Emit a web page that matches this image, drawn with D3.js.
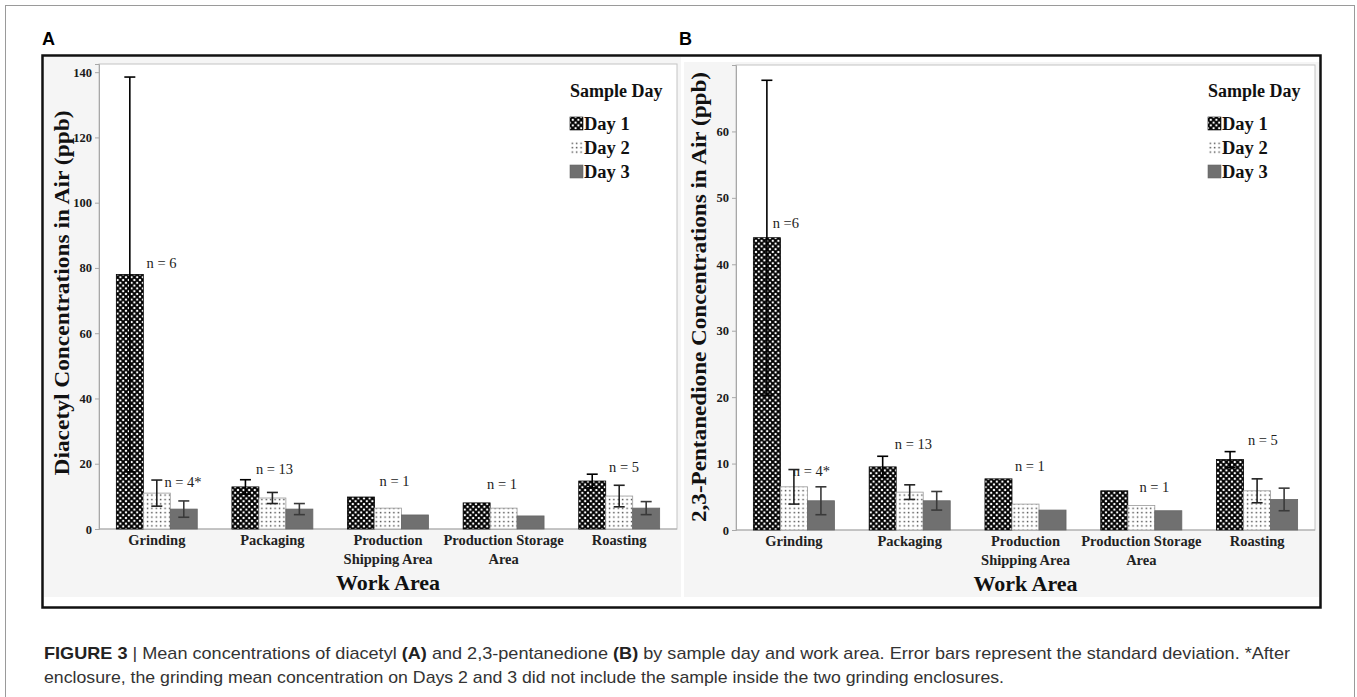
<!DOCTYPE html>
<html lang="en">
  <head>
    <meta charset="UTF-8" />
    <title>Figure 3</title>
    <script src="https://cdn.jsdelivr.net/npm/d3@7"></script>
    <style>
      body {
        margin: 0;
        background: white;
      }
      svg text {
        font-family: "Liberation Serif", "DejaVu Serif", serif;
      }
    </style>
  </head>
  <body>
    <script>
      // values
      const workAreas = [
        "Grinding",
        "Packaging",
        "Production Shipping Area",
        "Production Storage Area",
        "Roasting"
      ];
      const areaLabels = [
        ["Grinding"],
        ["Packaging"],
        ["Production", "Shipping Area"],
        ["Production Storage", "Area"],
        ["Roasting"]
      ];
      const sampleDays = ["Day 1", "Day 2", "Day 3"];

      // panel A - diacetyl (ppb)
      const diacetylDay1 = [78, 12.9, 9.8, 8.0, 14.7];
      const diacetylDay2 = [11.0, 9.5, 6.4, 6.4, 10.1];
      const diacetylDay3 = [6.1, 6.1, 4.3, 4.0, 6.4];
      const diacetylSdDay1 = [60.5, 2.2, null, null, 2.1];
      const diacetylSdDay2 = [4.0, 1.7, null, null, 3.3];
      const diacetylSdDay3 = [2.5, 1.7, null, null, 2.0];
      const diacetylTicks = [0, 20, 40, 60, 80, 100, 120, 140];
      // [work area, label, offset from group centre, value]
      const diacetylCounts = [
        ["Grinding", "n = 6", 4.7, 81.4],
        ["Grinding", "n = 4*", 26.2, 14.4],
        ["Packaging", "n = 13", 2.1, 18.4],
        ["Production Shipping Area", "n = 1", 6.5, 14.7],
        ["Production Storage Area", "n = 1", -1.6, 13.8],
        ["Roasting", "n = 5", 4.8, 18.9]
      ];

      // panel B - 2,3-pentanedione (ppb)
      const pentanedioneDay1 = [44.0, 9.5, 7.7, 5.9, 10.6];
      const pentanedioneDay2 = [6.5, 5.7, 3.9, 3.7, 5.9];
      const pentanedioneDay3 = [4.4, 4.4, 3.0, 2.9, 4.6];
      const pentanedioneSdDay1 = [23.7, 1.6, null, null, 1.2];
      const pentanedioneSdDay2 = [2.6, 1.1, null, null, 1.8];
      const pentanedioneSdDay3 = [2.1, 1.4, null, null, 1.7];
      const pentanedioneTicks = [0, 10, 20, 30, 40, 50, 60];
      const pentanedioneCounts = [
        ["Grinding", "n =6", -8, 46.2],
        ["Grinding", "n = 4*", 17.5, 8.9],
        ["Packaging", "n = 13", 3.7, 12.9],
        ["Production Shipping Area", "n = 1", 4.4, 9.6],
        ["Production Storage Area", "n = 1", 13.1, 6.5],
        ["Roasting", "n = 5", 5.8, 13.5]
      ];

      const width = 1357;
      const height = 697;

      const svg = d3
        .select("body")
        .append("svg")
        .attr("width", width)
        .attr("height", height);

      // fill patterns for the three days
      const defs = svg.append("defs");
      const p1 = defs
        .append("pattern")
        .attr("id", "day1")
        .attr("patternUnits", "userSpaceOnUse")
        .attr("width", 5.6)
        .attr("height", 5.6);
      p1.append("rect").attr("width", 5.6).attr("height", 5.6).attr("fill", "#000");
      [[0, 0], [5.6, 0], [0, 5.6], [5.6, 5.6], [2.8, 2.8]].forEach(c => {
        p1.append("circle")
          .attr("cx", c[0])
          .attr("cy", c[1])
          .attr("r", 1.2)
          .attr("fill", "#fff");
      });
      const p2 = defs
        .append("pattern")
        .attr("id", "day2")
        .attr("patternUnits", "userSpaceOnUse")
        .attr("width", 4.4)
        .attr("height", 4.4);
      p2.append("rect").attr("width", 4.4).attr("height", 4.4).attr("fill", "#fff");
      p2.append("rect")
        .attr("x", 1.6)
        .attr("y", 1.6)
        .attr("width", 1.4)
        .attr("height", 1.4)
        .attr("fill", "#444");

      const dayFill = ["url(#day1)", "url(#day2)", "#707070"];
      const dayStroke = ["#000", "#9a9a9a", "#666"];
      const errColor = ["#000", "#222", "#3a3a3a"];

      // outer frame
      svg
        .append("rect")
        .attr("x", 5.5)
        .attr("y", 5.5)
        .attr("width", 1349)
        .attr("height", 720)
        .attr("fill", "none")
        .attr("stroke", "#9a9a9a");

      // panel backgrounds + thick box
      svg
        .append("rect")
        .attr("x", 44)
        .attr("y", 57)
        .attr("width", 637)
        .attr("height", 540)
        .attr("fill", "#f5f5f5");
      svg
        .append("rect")
        .attr("x", 684)
        .attr("y", 62)
        .attr("width", 635)
        .attr("height", 535)
        .attr("fill", "#f5f5f5");
      svg
        .append("rect")
        .attr("x", 42.5)
        .attr("y", 55.5)
        .attr("width", 1278)
        .attr("height", 552)
        .attr("fill", "none")
        .attr("stroke", "#111")
        .attr("stroke-width", 2.5);

      svg
        .append("text")
        .text("A")
        .attr("x", 42)
        .attr("y", 45)
        .style("font-family", "Liberation Sans, Arial, sans-serif")
        .style("font-weight", "bold")
        .style("font-size", "18px");
      svg
        .append("text")
        .text("B")
        .attr("x", 679)
        .attr("y", 45)
        .style("font-family", "Liberation Sans, Arial, sans-serif")
        .style("font-weight", "bold")
        .style("font-size", "18px");

      function drawPanel(cfg) {
        const g = svg.append("g");
        const means = [cfg.day1, cfg.day2, cfg.day3];
        const sds = [cfg.sd1, cfg.sd2, cfg.sd3];

        const x0 = d3
          .scaleBand()
          .domain(workAreas)
          .range([cfg.left, cfg.right])
          .paddingInner(0.3)
          .paddingOuter(0.15);
        const x1 = d3
          .scaleBand()
          .domain(sampleDays)
          .range([0, x0.bandwidth()]);
        const y = d3
          .scaleLinear()
          .domain([0, cfg.yMax])
          .range([cfg.bottom, cfg.top]);

        // plot area
        g.append("rect")
          .attr("x", cfg.left)
          .attr("y", cfg.top)
          .attr("width", cfg.right - cfg.left)
          .attr("height", cfg.bottom - cfg.top)
          .attr("fill", "#fff")
          .attr("stroke", "#c4c4c4");

        const yAxis = g
          .append("g")
          .attr("transform", "translate(" + cfg.left + ",0)")
          .call(d3.axisLeft(y).tickValues(cfg.ticks).tickSize(4).tickPadding(3));
        yAxis.select(".domain").attr("stroke", "#a8a8a8");
        yAxis.selectAll(".tick line").attr("stroke", "#a8a8a8");
        yAxis
          .selectAll(".tick text")
          .attr("fill", "#1a1a1a")
          .style("font-family", "Liberation Serif, serif")
          .style("font-weight", "bold")
          .style("font-size", "12.5px");

        // baseline
        g.append("line")
          .attr("x1", cfg.left)
          .attr("x2", cfg.right)
          .attr("y1", y(0))
          .attr("y2", y(0))
          .attr("stroke", "#a8a8a8");

        // bars
        const rows = [];
        workAreas.forEach((a, i) => {
          sampleDays.forEach((d, j) => {
            rows.push({ area: a, day: d, j: j, mean: means[j][i], sd: sds[j][i] });
          });
        });

        g.selectAll(".bar")
          .data(rows)
          .enter()
          .append("rect")
          .attr("class", "bar")
          .attr("x", d => x0(d.area) + x1(d.day))
          .attr("y", d => y(d.mean))
          .attr("width", x1.bandwidth())
          .attr("height", d => y(0) - y(d.mean))
          .attr("fill", d => dayFill[d.j])
          .attr("stroke", d => dayStroke[d.j])
          .attr("stroke-width", 0.8);

        // error bars (standard deviation)
        const err = g
          .selectAll(".err")
          .data(rows.filter(d => d.sd != null))
          .enter()
          .append("g")
          .attr("class", "err")
          .attr("stroke", d => errColor[d.j])
          .attr("stroke-width", 1.6);
        const cx = d => x0(d.area) + x1(d.day) + x1.bandwidth() / 2;
        err
          .append("line")
          .attr("x1", cx)
          .attr("x2", cx)
          .attr("y1", d => y(d.mean - d.sd))
          .attr("y2", d => y(d.mean + d.sd));
        err
          .append("line")
          .attr("x1", d => cx(d) - 5.5)
          .attr("x2", d => cx(d) + 5.5)
          .attr("y1", d => y(d.mean + d.sd))
          .attr("y2", d => y(d.mean + d.sd));
        err
          .append("line")
          .attr("x1", d => cx(d) - 5.5)
          .attr("x2", d => cx(d) + 5.5)
          .attr("y1", d => y(d.mean - d.sd))
          .attr("y2", d => y(d.mean - d.sd));

        // n labels
        g.selectAll(".count")
          .data(cfg.counts)
          .enter()
          .append("text")
          .attr("class", "count")
          .attr("x", d => x0(d[0]) + x0.bandwidth() / 2 + d[2])
          .attr("y", d => y(d[3]))
          .attr("dy", "0.35em")
          .attr("text-anchor", "middle")
          .attr("fill", "#222")
          .style("font-size", "14.5px")
          .text(d => d[1]);

        // category labels
        const cat = g
          .selectAll(".cat")
          .data(workAreas)
          .enter()
          .append("text")
          .attr("class", "cat")
          .attr("text-anchor", "middle")
          .attr("fill", "#222")
          .style("font-weight", "bold")
          .style("font-size", "14.5px");
        cat
          .selectAll("tspan")
          .data((d, i) => areaLabels[i].map(t => ({ t: t, a: d })))
          .enter()
          .append("tspan")
          .attr("x", d => x0(d.a) + x0.bandwidth() / 2)
          .attr("y", (d, k) => cfg.bottom + 16 + k * 19)
          .text(d => d.t);

        // axis titles
        g.append("text")
          .attr("x", (cfg.left + cfg.right) / 2)
          .attr("y", cfg.bottom + 61)
          .attr("text-anchor", "middle")
          .attr("fill", "#111")
          .style("font-weight", "bold")
          .style("font-size", "22px")
          .text("Work Area");

        g.append("text")
          .attr(
            "transform",
            "translate(" + cfg.titleX + "," + cfg.titleY + ") rotate(-90)"
          )
          .attr("text-anchor", "middle")
          .attr("dy", "0.35em")
          .attr("fill", "#111")
          .attr("textLength", cfg.titleLength)
          .attr("lengthAdjust", "spacingAndGlyphs")
          .style("font-weight", "bold")
          .style("font-size", "22px")
          .text(cfg.title);

        // legend
        const lx = cfg.right - 107;
        g.append("text")
          .attr("x", lx)
          .attr("y", 97)
          .attr("fill", "#111")
          .style("font-weight", "bold")
          .style("font-size", "18px")
          .text("Sample Day");
        const item = g
          .selectAll(".legend-item")
          .data(sampleDays)
          .enter()
          .append("g")
          .attr("class", "legend-item")
          .attr("transform", (d, i) => "translate(" + lx + "," + (117 + i * 24) + ")");
        item
          .append("rect")
          .attr("width", 13)
          .attr("height", 13)
          .attr("fill", (d, i) => dayFill[i])
          .attr("stroke", (d, i) => (i === 1 ? "none" : dayStroke[i]))
          .attr("stroke-width", 0.6);
        item
          .append("text")
          .attr("x", 14)
          .attr("y", 13)
          .attr("fill", "#111")
          .style("font-weight", "bold")
          .style("font-size", "18.5px")
          .text(d => d);
      }

      drawPanel({
        left: 99,
        right: 677,
        top: 64,
        bottom: 529,
        yMax: 142.5,
        ticks: diacetylTicks,
        day1: diacetylDay1,
        day2: diacetylDay2,
        day3: diacetylDay3,
        sd1: diacetylSdDay1,
        sd2: diacetylSdDay2,
        sd3: diacetylSdDay3,
        counts: diacetylCounts,
        title: "Diacetyl Concentrations in Air (ppb)",
        titleX: 61,
        titleY: 293,
        titleLength: 365
      });

      drawPanel({
        left: 736,
        right: 1315,
        top: 65,
        bottom: 530,
        yMax: 70,
        ticks: pentanedioneTicks,
        day1: pentanedioneDay1,
        day2: pentanedioneDay2,
        day3: pentanedioneDay3,
        sd1: pentanedioneSdDay1,
        sd2: pentanedioneSdDay2,
        sd3: pentanedioneSdDay3,
        counts: pentanedioneCounts,
        title: "2,3-Pentanedione Concentrations in Air (ppb)",
        titleX: 698,
        titleY: 297,
        titleLength: 450
      });

      // caption, two lines stretched to the widths in the figure
      const captionLines = [
        [
          ["FIGURE 3", true],
          [" | Mean concentrations of diacetyl ", false],
          ["(A)", true],
          [" and 2,3-pentanedione ", false],
          ["(B)", true],
          [" by sample day and work area. Error bars represent the standard deviation. *After", false]
        ],
        [
          ["enclosure, the grinding mean concentration on Days 2 and 3 did not include the sample inside the two grinding enclosures.", false]
        ]
      ];
      const captionWidths = [1246, 960];
      captionLines.forEach((parts, i) => {
        const t = svg
          .append("text")
          .attr("x", 44)
          .attr("y", 659 + i * 24)
          .attr("fill", "#333")
          .attr("textLength", captionWidths[i])
          .attr("lengthAdjust", "spacingAndGlyphs")
          .style("font-family", "Liberation Sans, Arial, sans-serif")
          .style("font-size", "17px");
        parts.forEach(s => {
          t.append("tspan")
            .text(s[0])
            .attr("fill", s[1] ? "#222" : "#333")
            .style("font-weight", s[1] ? "bold" : "normal");
        });
      });
    </script>
  </body>
</html>
